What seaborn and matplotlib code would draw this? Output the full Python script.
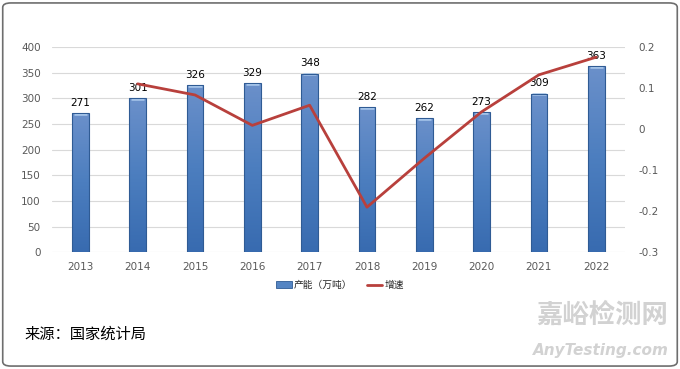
import numpy as np
import pandas as pd
import matplotlib.pyplot as plt
import seaborn as sns
from matplotlib.patches import FancyBboxPatch, Patch
from matplotlib.lines import Line2D

years = [2013, 2014, 2015, 2016, 2017, 2018, 2019, 2020, 2021, 2022]
capacity = [271, 301, 326, 329, 348, 282, 262, 273, 309, 363]
growth_years = [2014, 2015, 2016, 2017, 2018, 2019, 2020, 2021, 2022]
growth = [0.11, 0.083, 0.009, 0.058, -0.19, -0.071, 0.042, 0.132, 0.175]
left_ticks = [0, 50, 100, 150, 200, 250, 300, 350, 400]
right_ticks = [-0.3, -0.2, -0.1, 0, 0.1, 0.2]
right_labels = ['-0.3', '-0.2', '-0.1', '0', '0.1', '0.2']

sns.set_style('white')
plt.rcParams['font.family'] = ['DejaVu Sans', 'Noto Sans CJK SC']
cjk = ['Noto Sans CJK SC', 'DejaVu Sans']

df_bar = pd.DataFrame({'year': years, 'cap': capacity})
df_line = pd.DataFrame({'year': growth_years, 'g': growth})

fig = plt.figure(figsize=(6.8, 3.69), dpi=100)
ax = fig.add_axes([0.076, 0.316, 0.843, 0.557])

sns.barplot(data=df_bar, x='year', y='cap', native_scale=True, width=0.29,
            color='#4a7cbb', edgecolor='#2f5b94', linewidth=0.8, ax=ax)

# vertical gradient on each bar, roughly like the excel fill
grad = np.linspace(0, 1, 100).reshape(-1, 1)
cmap = sns.blend_palette(['#386bb0', '#4c7ebf', '#6b90ca'], as_cmap=True)
for p in ax.patches:
    x0, y0 = p.get_x(), p.get_y()
    w, h = p.get_width(), p.get_height()
    z = p.get_zorder()
    im = ax.imshow(grad, extent=[x0, x0 + w, y0, y0 + h], origin='lower',
                   cmap=cmap, aspect='auto', zorder=z + 0.1)
    im.set_clip_path(p)
    ax.plot([x0 + w * 0.1, x0 + w * 0.9], [y0 + h - 1.5, y0 + h - 1.5],
            color='#a9c8ec', lw=1.8, zorder=z + 0.2, solid_capstyle='butt')
    p.set_facecolor('none')
    p.set_zorder(z + 0.3)
    ax.text(x0 + w / 2, y0 + h + 10, f'{int(round(h))}', ha='center', va='bottom',
            fontsize=7.5, color='black')

ax.set_xlim(2012.5, 2022.5)
ax.set_ylim(0, 400)
ax.set_yticks(left_ticks)
ax.set_xticks(years)
ax.set_xticklabels([str(y) for y in years])
ax.set_xlabel('')
ax.set_ylabel('')
ax.grid(axis='y', color='#d9d9d9', lw=0.8)
ax.set_axisbelow(True)
for s in ax.spines.values():
    s.set_visible(False)
ax.tick_params(axis='both', length=0, labelsize=7.5, labelcolor='#595959')
ax.tick_params(axis='y', pad=8)
ax.tick_params(axis='x', pad=7)

ax2 = ax.twinx()
sns.lineplot(data=df_line, x='year', y='g', color='#b8403c', lw=2, ax=ax2)
ax2.set_ylim(-0.3, 0.2)
ax2.set_yticks(right_ticks)
ax2.set_yticklabels(right_labels)
ax2.set_ylabel('')
ax2.set_xlim(2012.5, 2022.5)
for s in ax2.spines.values():
    s.set_visible(False)
ax2.tick_params(axis='y', length=0, labelsize=7.5, labelcolor='#595959', pad=10)

handles = [Patch(facecolor='#5585c3', edgecolor='#2f5b94', lw=0.6),
           Line2D([0], [0], color='#b8403c', lw=2)]
fig.legend(handles, ['产能（万吨）', '增速'], loc='center', bbox_to_anchor=(0.5, 0.228),
           ncol=2, frameon=False, prop={'family': cjk, 'size': 7},
           handlelength=1.6, handleheight=0.6, handletextpad=0.2, columnspacing=1.5)

fig.text(0.036, 0.094, '来源：国家统计局', family=cjk, fontsize=11, color='black', va='center')
fig.text(0.983, 0.145, '嘉峪检测网', family=cjk, fontsize=19, color='#d2d2d2',
         ha='right', va='center', weight='bold')
fig.text(0.983, 0.05, 'AnyTesting.com', fontsize=11, color='#d2d2d2',
         ha='right', va='center', style='italic', weight='bold')

fig.patches.append(FancyBboxPatch((0.004, 0.008), 0.992, 0.984,
                                  boxstyle='round,pad=0,rounding_size=0.012',
                                  transform=fig.transFigure, fill=False,
                                  edgecolor='#6e6e6e', lw=1.2))

fig.savefig('out.png', dpi=100)
